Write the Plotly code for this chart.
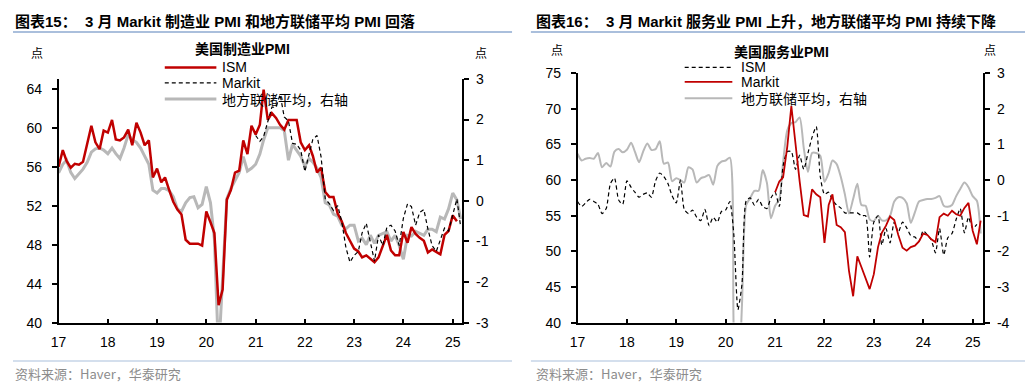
import pandas as pd
import plotly.graph_objects as go

W, H = 1030, 392
def px(x): return x / W
def py(y): return 1 - y / H

months = pd.date_range("2017-01-01", "2025-03-01", freq="MS")
markit_months = pd.date_range("2021-01-01", "2025-03-01", freq="MS")
year_ticks = pd.date_range("2017-01-01", "2025-01-01", freq="YS")
year_labels = ["17", "18", "19", "20", "21", "22", "23", "24", "25"]

# ---------- 美国制造业PMI ----------
ism_mfg = [
    56.0, 57.7, 56.6, 55.9, 56.3, 56.2, 56.5, 58.3, 60.2, 58.5, 57.8, 59.7,
    59.5, 60.8, 58.8, 58.7, 59.0, 59.8, 58.2, 60.5, 59.5, 58.2, 58.7, 54.9,
    55.8, 54.4, 54.9, 53.6, 52.4, 51.6, 51.1, 48.5, 48.1, 48.1, 48.1, 47.9,
    51.4, 50.3, 49.2, 41.8, 43.4, 52.6, 53.6, 55.4, 55.6, 58.7, 57.3, 60.2,
    59.3, 60.3, 63.9, 60.8, 61.5, 61.0, 60.3, 59.8, 60.8, 60.8, 60.8, 58.5,
    57.7, 58.2, 57.1, 55.4, 55.9, 53.4, 52.9, 52.9, 51.2, 50.4, 49.2, 48.4,
    47.6, 47.3, 46.7, 46.9, 46.6, 46.2, 46.7, 47.8, 49.0, 47.4, 46.9, 46.9,
    49.3, 48.2, 49.8, 49.1, 48.7, 48.4, 47.2, 47.5, 47.2, 47.0, 49.0, 49.4,
    51.0, 50.4,
]
markit_mfg = [
    59.2, 58.6, 59.1, 60.5, 62.1, 62.1, 63.4, 61.1, 60.7, 58.4, 58.3, 57.7,
    55.5, 57.3, 58.8, 59.2, 57.0, 52.7, 52.2, 51.5, 52.0, 50.4, 47.7, 46.2,
    46.9, 47.3, 49.2, 50.2, 48.4, 46.3, 49.0, 47.9, 49.8, 50.0, 49.4, 47.9,
    50.7, 52.2, 51.9, 50.0, 51.3, 51.6, 49.6, 47.9, 47.3, 48.5, 49.7, 49.4,
    51.2, 52.7, 49.8,
]
fed_mfg = [
    0.69, 0.9, 1.0, 0.7, 0.55, 0.68, 0.78, 0.95, 1.2, 1.28, 1.3, 1.25,
    1.16, 1.3, 1.16, 1.04, 1.3, 1.63, 1.5, 1.44, 1.3, 1.1, 0.9, 0.26,
    0.19, 0.3, 0.3, 0.25, 0.1, -0.2, -0.26, -0.05, 0.08, 0.1, -0.17, -0.09,
    0.35, -0.05, -0.95, -3.8, -2.0, 0.05, 0.3, 0.5, 0.7, 1.09, 0.73, 0.8,
    0.9, 1.15, 1.5, 1.8, 1.8, 1.8, 1.8, 1.73, 1.0, 1.39, 1.25, 1.1,
    0.85, 1.04, 0.95, 0.8, 0.57, -0.05, -0.1, -0.33, -0.38, -0.6, -0.69, -0.6,
    -0.6, -0.99, -0.92, -1.08, -0.85, -1.05, -0.85, -0.8, -0.76, -0.99, -0.85, -1.1,
    -1.44, -0.85, -0.87, -0.75, -0.8, -0.85, -0.7, -0.7, -0.76, -0.4, -0.45, -0.2,
    0.19, 0.02, -0.45,
]

# ---------- 美国服务业PMI ----------
ism_svc = [
    57.0, 56.3, 56.8, 57.3, 57.0, 56.6, 55.3, 56.0, 59.5, 60.3, 57.2, 56.6,
    59.9, 59.0, 58.3, 57.6, 58.0, 58.2, 57.6, 59.9, 61.0, 60.5, 59.5, 57.8,
    56.8, 60.0, 55.9, 55.3, 55.8, 54.8, 54.3, 55.9, 53.6, 54.8, 54.1, 55.6,
    55.8, 57.0, 52.5, 41.8, 45.4, 57.1, 57.5, 56.5, 57.3, 56.3, 56.0, 57.5,
    58.3, 56.3, 62.0, 64.0, 64.0, 61.5, 63.5, 61.5, 63.8, 66.0, 67.5, 60.5,
    58.0, 58.3, 57.2, 56.5, 56.1, 55.4, 55.4, 55.4, 55.4, 55.0, 55.0, 49.2,
    54.1, 55.0, 50.9, 53.2, 51.2, 54.1, 52.7, 54.1, 53.3, 52.2, 52.0, 51.4,
    52.9, 52.3, 51.6, 49.8, 53.2, 49.5, 51.9, 52.5, 54.5, 56.0, 52.6, 54.8,
    53.2, 53.8,
]
markit_svc = [
    58.3, 59.8, 60.4, 64.7, 70.4, 64.6, 59.9, 55.1, 54.9, 58.7, 58.0, 57.6,
    51.2, 56.5, 58.0, 53.7, 53.4, 52.7, 47.3, 43.7, 49.3, 47.8, 46.2, 44.7,
    46.8, 50.6, 52.6, 53.6, 54.9, 54.4, 52.3, 50.5, 50.1, 50.6, 50.8, 51.4,
    52.5, 52.3, 51.7, 51.3, 54.8, 55.3, 55.0, 55.7, 55.2, 55.0, 56.1, 56.8,
    52.9, 51.0, 54.3,
]
fed_svc = [
    0.74, 0.55, 0.6, 0.62, 0.6, 0.76, 0.36, 0.48, 0.38, 0.8, 0.87, 0.78,
    0.85, 1.05, 0.8, 0.5, 0.8, 1.03, 0.85, 0.87, 1.09, 0.46, 0.49, -0.03,
    0.05, 0.0, -0.07, 0.36, 0.3, -0.07, 0.05, 0.09, 0.14, -0.13, 0.4, 0.52,
    0.55, 0.63, -4.2, -6.0, -3.5, -0.7, -0.5, -0.3, -0.3, 0.28, -0.07, -1.07,
    -0.72, -0.53, 0.5, 1.4, 1.6, 1.63, 1.76, 0.9, 0.23, 0.76, 0.76, 0.68,
    -0.05, 0.2, 0.55, 0.45, 0.1, -0.4, -0.94, -0.53, -0.1, -0.7, -0.72, -1.1,
    -1.15, -1.0, -1.13, -1.13, -1.0, -0.6, -0.48, -0.5, -0.65, -1.2, -0.9, -0.6,
    -0.56, -0.53, -0.53, -0.5, -0.45, -0.72, -0.75, -0.7, -0.45, -0.25, -0.07, -0.2,
    -0.45, -0.58, -1.5,
]

RED = "#c00000"
GRAY = "#b8b8b8"
BLACK = "#000000"
LAT = "Liberation Sans, Arial, Noto Sans CJK SC"
CJK = "Noto Sans CJK SC, Liberation Sans"

fig = go.Figure()

# left chart
fig.add_trace(go.Scatter(x=months, y=fed_mfg, xaxis="x", yaxis="y", mode="lines",
                         line=dict(color=GRAY, width=3), name="地方联储平均，右轴"))
fig.add_trace(go.Scatter(x=months[:len(ism_mfg)], y=ism_mfg, xaxis="x", yaxis="y2", mode="lines",
                         line=dict(color=RED, width=2.5), name="ISM"))
fig.add_trace(go.Scatter(x=markit_months, y=markit_mfg, xaxis="x", yaxis="y2", mode="lines",
                         line=dict(color=BLACK, width=1.2, dash="4px,3px"), name="Markit"))

# right chart
fig.add_trace(go.Scatter(x=months, y=fed_svc, xaxis="x2", yaxis="y3", mode="lines",
                         line=dict(color=GRAY, width=2, shape="spline", smoothing=0.7),
                         name="地方联储平均，右轴"))
fig.add_trace(go.Scatter(x=months[:len(ism_svc)], y=ism_svc, xaxis="x2", yaxis="y4", mode="lines",
                         line=dict(color=BLACK, width=1.2, dash="4px,3px", shape="spline", smoothing=0.6),
                         name="ISM"))
fig.add_trace(go.Scatter(x=markit_months, y=markit_svc, xaxis="x2", yaxis="y4", mode="lines",
                         line=dict(color=RED, width=1.8), name="Markit"))

tickfont = dict(family=LAT, size=14, color="#000")
axis_common = dict(showgrid=False, zeroline=False, showline=True, linecolor="#000",
                   linewidth=1.5, tickcolor="#000", tickwidth=1.5, tickfont=tickfont)

def xaxis_cfg(x0, x1, anchor, end):
    return dict(domain=[px(x0), px(x1)], anchor=anchor, type="date",
                range=["2017-01-01", end], tickvals=list(year_ticks), ticktext=year_labels,
                ticks="inside", ticklen=4, ticklabelstandoff=6, **axis_common)

fig.update_layout(
    width=W, height=H, margin=dict(l=0, r=0, t=0, b=0),
    paper_bgcolor="white", plot_bgcolor="white", showlegend=False,
    xaxis=xaxis_cfg(51, 458, "y", "2025-03-14"),
    yaxis=dict(domain=[py(328), py(74)], anchor="x", side="right", range=[-3, 3],
               tickvals=[-3, -2, -1, 0, 1, 2, 3], ticktext=["-3", "-2", "-1", "0", "1", "2", "3"],
               ticks="outside", ticklen=5, ticklabelstandoff=4, **axis_common),
    yaxis2=dict(overlaying="y", anchor="x", side="left", range=[40, 65],
                tickvals=[40, 44, 48, 52, 56, 60, 64], ticktext=["40", "44", "48", "52", "56", "60", "64"],
                ticks="outside", ticklen=5, ticklabelstandoff=7, **axis_common),
    xaxis2=xaxis_cfg(574, 983, "y3", "2025-03-21"),
    yaxis3=dict(domain=[py(328), py(68)], anchor="x2", side="right", range=[-4, 3],
                tickvals=[-4, -3, -2, -1, 0, 1, 2, 3],
                ticktext=["-4", "-3", "-2", "-1", "0", "1", "2", "3"],
                ticks="outside", ticklen=5, ticklabelstandoff=4, **axis_common),
    yaxis4=dict(overlaying="y3", anchor="x2", side="left", range=[40, 75],
                tickvals=[40, 45, 50, 55, 60, 65, 70, 75],
                ticktext=["40", "45", "50", "55", "60", "65", "70", "75"],
                ticks="outside", ticklen=5, ticklabelstandoff=7, **axis_common),
)

shapes = []
annotations = []

def text(x, y, s, size=14, family=CJK, color="#000", xanchor="left"):
    annotations.append(dict(x=px(x), y=py(y), xref="paper", yref="paper", text=s,
                            showarrow=False, xanchor=xanchor, yanchor="middle",
                            font=dict(family=family, size=size, color=color)))

def hline(x0, x1, y, color, width, dash=None):
    ln = dict(color=color, width=width)
    if dash:
        ln["dash"] = dash
    shapes.append(dict(type="line", xref="paper", yref="paper", x0=px(x0), x1=px(x1),
                       y0=py(y), y1=py(y), line=ln))

# titles
text(5, 14, "<b>图表15：  3 月 Markit 制造业 PMI 和地方联储平均 PMI 回落</b>", size=15, family=LAT)
text(530, 14, "<b>图表16：  3 月 Markit 服务业 PMI 上升，地方联储平均 PMI 持续下降</b>", size=15, family=LAT)
hline(5, 508, 25, "#8eaad0", 1.5)
hline(527, 1025, 25, "#8eaad0", 1.5)

# footers
hline(5, 508, 368, "#a9bfdc", 1.2)
hline(527, 1025, 368, "#a9bfdc", 1.2)
text(5, 381, "资料来源：Haver，华泰研究", size=13, color="#8c8c8c")
text(530, 381, "资料来源：Haver，华泰研究", size=13, color="#8c8c8c")

# axis unit labels
text(29, 46, "点", size=12, xanchor="center")
text(477, 46, "点", size=12, xanchor="center")
text(553, 43, "点", size=12, xanchor="center")
text(990, 43, "点", size=12, xanchor="center")

# legends (drawn manually)
text(236, 43, "<b>美国制造业PMI</b>", size=14, family=LAT, xanchor="center")
hline(158, 210, 62, RED, 2.5)
text(214, 62, "ISM", size=14, family=LAT)
hline(158, 210, 78, BLACK, 1.2, "4px,3px")
text(214, 78, "Markit", size=14, family=LAT)
hline(158, 210, 95, GRAY, 3)
text(214, 95, "地方联储平均，右轴", size=14)

text(780, 46, "<b>美国服务业PMI</b>", size=14, family=LAT, xanchor="center")
hline(682, 730, 62, BLACK, 1.2, "4px,3px")
text(737, 62, "ISM", size=14, family=LAT)
hline(682, 730, 77, RED, 1.8)
text(737, 77, "Markit", size=14, family=LAT)
hline(682, 730, 94, GRAY, 2)
text(737, 94, "地方联储平均，右轴", size=14)

fig.update_layout(shapes=shapes, annotations=annotations)
fig.write_html("out.html")
